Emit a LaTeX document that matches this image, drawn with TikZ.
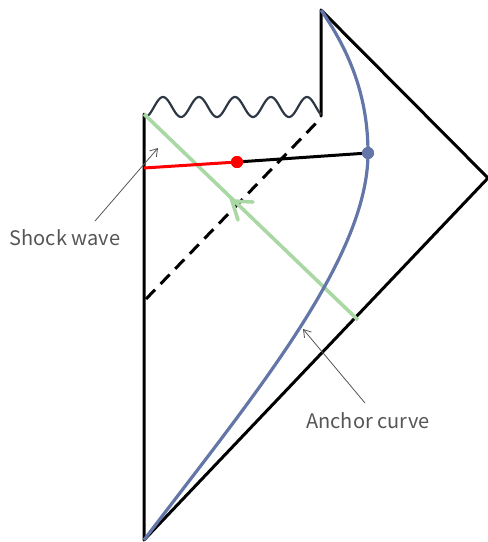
\documentclass[tikz,border=0pt]{standalone}
\usepackage{fontspec}
\newfontfamily\labelfont{Noto Sans CJK JP}
\usetikzlibrary{arrows.meta,calc}
\definecolor{anchorblue}{RGB}{100,118,168}
\definecolor{wavegreen}{RGB}{170,216,165}
\definecolor{singgray}{RGB}{46,56,68}
\definecolor{labelgray}{RGB}{85,85,85}
\begin{document}
\begin{tikzpicture}[x=1pt,y=-1pt,
edge/.style={draw=black,line width=3pt},
ray/.style={draw=wavegreen,line width=3.6pt},
dot/.style={circle,inner sep=0pt,minimum size=12pt},
lbl/.style={font=\labelfont\fontsize{20}{22}\selectfont,text=labelgray,inner sep=0pt},
pointer/.style={draw=labelgray,line width=0.8pt,-{Straight Barb[length=7pt,width=9pt]}}]
\useasboundingbox (0,0) rectangle (488,542);
\coordinate (B) at (144,540);
\coordinate (L) at (144,114);
\coordinate (W) at (321,116);
\coordinate (T) at (321,10);
\coordinate (R) at (488,178);
\coordinate (D1) at (146,299);
\coordinate (D2) at (321,118);
\coordinate (H) at (144,168);
\coordinate (E) at (358,320);
\coordinate (M) at (232,201);
\node[dot,fill=red] (S) at (237,162) {};
\node[dot,fill=anchorblue] (A) at (368,153) {};
\draw[edge,line cap=round,line join=round] (W)--(T)--(R)--(B)--(L);
\draw[singgray,line width=2.2pt,line join=round]
plot[domain=144:321,samples=150,smooth] (\x,{107-10*cos(10*(\x-163))});
\draw[edge,dashed,dash pattern=on 13pt off 8pt] (D1)--(D2);
\draw[ray] (L)--(E);
\draw[ray,line cap=round] ($(M)+(6,19)$)--(M)--($(M)+(21,1)$);
\draw[anchorblue,line width=3.2pt] (B) .. controls (250,400) and (368,260) .. (A.center)
.. controls (368,90) and (345,45) .. (T);
\node[dot,fill=anchorblue] at (A) {};
\draw[red,line width=3pt] (H)--(S);
\draw[edge] (S)--(A);
\node[dot,fill=red] at (S) {};
\node[lbl] (swlabel) at (65,238) {Shock wave};
\coordinate (swfoot) at (95,221);
\coordinate (swtip) at (158,148);
\draw[pointer] (swfoot)--(swtip);
\node[lbl] (aclabel) at (368,421) {Anchor curve};
\coordinate (acfoot) at (365,403);
\coordinate (actip) at (303,329);
\draw[pointer] (acfoot)--(actip);
\end{tikzpicture}
\end{document}
